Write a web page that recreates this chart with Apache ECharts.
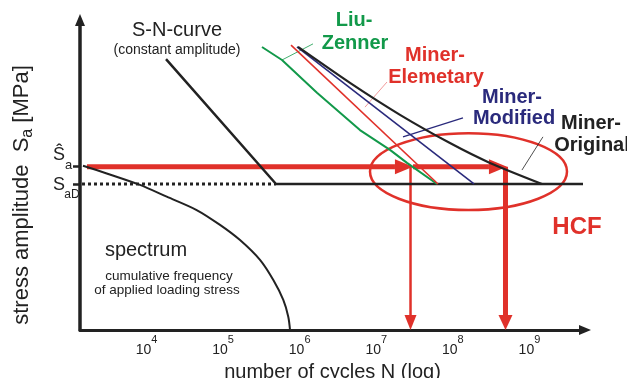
<!DOCTYPE html>
<html><head><meta charset="utf-8">
<script src="https://cdn.jsdelivr.net/npm/echarts@6/dist/echarts.min.js"></script>
<style>html,body{margin:0;padding:0;background:#fff}#c{width:627px;height:378px}</style>
</head><body><div id="c"></div>
<script>
const FONT = '"Liberation Sans", Arial, Helvetica, sans-serif';
const RED = '#e0312a', GREEN = '#12994a', NAVY = '#2a2a7c', BLACK = '#222222', PINK = '#f29a9a';

// x = log10(N), y = stress amplitude (schematic units)
const decadeTicks = [4, 5, 6, 7, 8, 9];
const stressLevels = [47.1, 52.7];            // S_aD, Ŝ_a
const snCurve = [[4.255, 87.4], [5.691, 47.1], [9.699, 47.1]];
const enduranceDotted = [[3.158, 47.1], [5.691, 47.1]];
const spectrum = [[3.171, 53.0], [3.481, 50.5], [3.915, 46.8], [4.264, 43.0], [4.655, 38.7], [4.960, 33.9],
  [5.221, 29.0], [5.482, 22.6], [5.656, 16.1], [5.786, 9.7], [5.851, 4.3], [5.874, 0]];
const liuZenner = [[5.508, 91.3], [5.769, 87.1], [6.226, 76.5], [6.787, 64.5], [7.179, 58.1], [7.401, 53.9], [7.793, 47.1]];
const minerElementary = [[5.887, 91.9], [7.806, 47.1]];
const minerModified = [[5.965, 91.3], [8.276, 47.1]];
const minerOriginal = [[5.978, 91.3], [6.657, 79.7], [7.310, 69.4], [7.962, 60.3], [8.484, 53.9], [9.163, 47.1]];
const leaderLiu = [[6.174, 92.3], [5.769, 87.1]];
const leaderElementary = [[7.140, 80.0], [6.853, 71.9]];
const leaderModified = [[8.132, 68.4], [7.349, 62.3]];
const leaderOriginal = [[9.176, 62.3], [8.902, 51.6]];
const loadArrows = [[3.223, 52.7, 7.479, 52.7], [7.479, 52.7, 8.706, 52.7]];
const lifeArrowThin = [[7.447, 52.7, 7.447, 0]];
const lifeArrowThick = [[8.687, 52.7, 8.687, 0]];
const hcfEllipse = [[6.918, 9.490, 38.7, 63.5]];   // xLeft, xRight, yBottom, yTop

function arrowRender(headLen, headHalf, lw) {
  return function (params, api) {
    const p1 = api.coord([api.value(0), api.value(1)]);
    const p2 = api.coord([api.value(2), api.value(3)]);
    const dx = p2[0] - p1[0], dy = p2[1] - p1[1];
    const L = Math.hypot(dx, dy), ux = dx / L, uy = dy / L;
    const bx = p2[0] - ux * headLen, by = p2[1] - uy * headLen;
    return {
      type: 'group', children: [
        { type: 'line', shape: { x1: p1[0], y1: p1[1], x2: bx, y2: by }, style: { stroke: RED, lineWidth: lw } },
        { type: 'polygon', shape: { points: [[p2[0], p2[1]], [bx - uy * headHalf, by + ux * headHalf], [bx + uy * headHalf, by - ux * headHalf]] }, style: { fill: RED } }
      ]
    };
  };
}

function lineSeries(data, color, width, extra) {
  return Object.assign({
    type: 'line', data: data, symbol: 'none', silent: true, animation: false,
    lineStyle: { color: color, width: width }
  }, extra || {});
}

function txt(x, y, text, size, color, bold) {
  return {
    type: 'text', x: x, y: y, silent: true,
    style: { text: text, fontSize: size, fontFamily: FONT, fontWeight: bold ? 'bold' : 'normal', fill: color, align: 'center', verticalAlign: 'middle' }
  };
}

const chart = echarts.init(document.getElementById('c'), null, { renderer: 'canvas' });
chart.setOption({
  animation: false,
  backgroundColor: '#fff',
  textStyle: { fontFamily: FONT },
  grid: { left: 80, right: 42, top: 20, bottom: 48, containLabel: false, outerBoundsMode: 'none' },
  xAxis: {
    type: 'value', min: 3.132, max: 9.725,
    name: 'number of cycles N (log)', nameLocation: 'middle', nameGap: 26,
    nameTextStyle: { fontSize: 20, color: BLACK, fontFamily: FONT },
    axisLine: { show: true, symbol: ['none', 'triangle'], symbolSize: [10, 12], lineStyle: { color: BLACK, width: 3 } },
    axisTick: { show: false },
    splitLine: { show: false },
    axisLabel: {
      customValues: decadeTicks, margin: 4, fontSize: 14, color: BLACK, fontFamily: FONT,
      formatter: function (v) { return '10{sup|' + v + '}'; },
      rich: { sup: { fontSize: 11, color: BLACK, fontFamily: FONT, padding: [0, 0, 22, 0] } }
    }
  },
  yAxis: {
    type: 'value', min: 0, max: 100,
    name: 'stress amplitude  S{sub|a} [MPa]', nameLocation: 'middle', nameGap: 44,
    nameTextStyle: { fontSize: 22, color: BLACK, fontFamily: FONT, padding: [0, 40, 0, 0],
      rich: { sub: { fontSize: 16, color: BLACK, fontFamily: FONT, padding: [12, 0, 0, 0] } } },
    axisLine: { show: true, symbol: ['none', 'triangle'], symbolSize: [10, 12], lineStyle: { color: BLACK, width: 3.5 } },
    axisTick: { show: true, customValues: stressLevels, length: 7, lineStyle: { color: BLACK, width: 2.5 } },
    axisLabel: { show: false },
    splitLine: { show: false }
  },
  graphic: [
    txt(177, 30, 'S-N-curve', 20, BLACK),
    txt(177, 50, '(constant amplitude)', 14, BLACK),
    txt(146, 250, 'spectrum', 20, BLACK),
    txt(169, 276, 'cumulative frequency', 13.5, BLACK),
    txt(167, 290, 'of applied loading stress', 13.5, BLACK),
    txt(354, 20, 'Liu-', 20, GREEN, true),
    txt(355, 43, 'Zenner', 20, GREEN, true),
    txt(435, 55, 'Miner-', 20, RED, true),
    txt(436, 77, 'Elemetary', 20, RED, true),
    txt(512, 97, 'Miner-', 20, NAVY, true),
    txt(514, 118, 'Modified', 20, NAVY, true),
    txt(591, 123, 'Miner-', 20, BLACK, true),
    txt(592, 145, 'Original', 20, BLACK, true),
    txt(577, 227, 'HCF', 24, RED, true),
    txt(59, 155, 'Ŝ', 18, BLACK),
    txt(68.5, 165, 'a', 13, BLACK),
    txt(59, 185, 'S', 18, BLACK),
    txt(72, 195, 'aD', 12, BLACK)
  ],
  series: [
    lineSeries(enduranceDotted, BLACK, 3, { lineStyle: { color: BLACK, width: 3, type: [3, 3] } }),
    lineSeries(snCurve, BLACK, 2.5),
    lineSeries(spectrum, BLACK, 2, { smooth: 0.3 }),
    lineSeries(leaderLiu, GREEN, 0.8),
    lineSeries(leaderElementary, PINK, 1),
    lineSeries(leaderModified, NAVY, 1.3),
    lineSeries(leaderOriginal, BLACK, 0.8),
    lineSeries(liuZenner, GREEN, 2),
    lineSeries(minerElementary, RED, 1.6),
    lineSeries(minerModified, NAVY, 1.6),
    lineSeries(minerOriginal, BLACK, 2.2, { smooth: 0.2 }),
    { type: 'custom', silent: true, animation: false, clip: false, data: hcfEllipse,
      encode: { x: [0, 1], y: [2, 3] },
      renderItem: function (params, api) {
        const a = api.coord([api.value(0), api.value(3)]);
        const b = api.coord([api.value(1), api.value(2)]);
        return { type: 'ellipse', shape: { cx: (a[0] + b[0]) / 2, cy: (a[1] + b[1]) / 2, rx: (b[0] - a[0]) / 2, ry: (b[1] - a[1]) / 2 },
          style: { fill: 'none', stroke: RED, lineWidth: 2.5 } };
      } },
    { type: 'custom', silent: true, animation: false, clip: false, data: loadArrows, encode: { x: [0, 2], y: [1, 3] }, renderItem: arrowRender(18, 7.5, 5) },
    { type: 'custom', silent: true, animation: false, clip: false, data: lifeArrowThin, encode: { x: [0, 2], y: [1, 3] }, renderItem: arrowRender(15, 6, 2.5) },
    { type: 'custom', silent: true, animation: false, clip: false, data: lifeArrowThick, encode: { x: [0, 2], y: [1, 3] }, renderItem: arrowRender(15, 7, 5) }
  ]
});
</script></body></html>
